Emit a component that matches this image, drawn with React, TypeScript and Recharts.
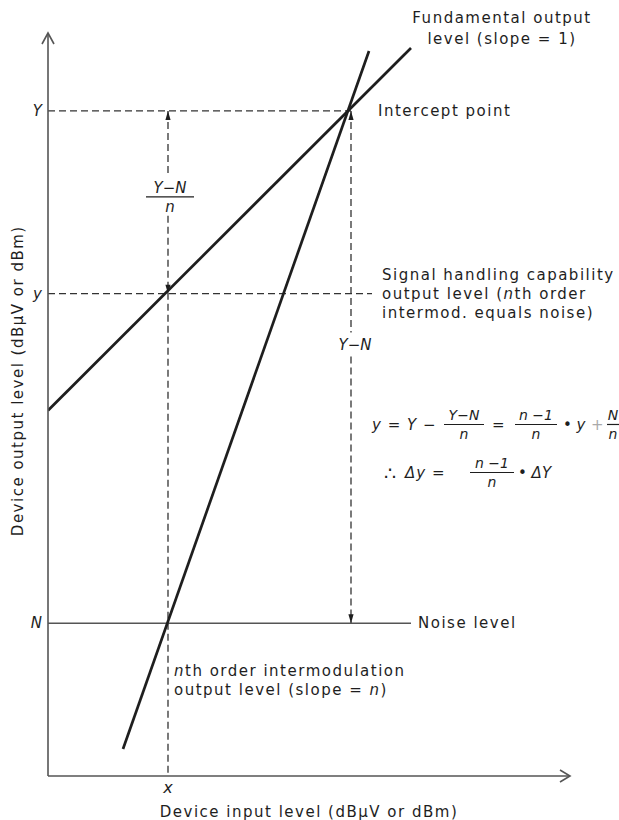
import React from 'react';
import { ComposedChart, Line, XAxis, YAxis, ReferenceLine, ReferenceDot } from 'recharts';

// axis ranges (input / output level, arbitrary dB units)
const inputDomain = [0, 174];
const outputDomain = [0, 248];

// fundamental output, slope = 1
const fundamental = [
  { input: 0, output: 122 },
  { input: 121, output: 243 },
];

// nth order intermodulation output, slope = n
const intermod = [
  { input: 25, output: 9 },
  { input: 107, output: 242 },
];

// named output levels on the vertical axis
const levelNames = ['N', 'y', 'Y'];
const levelValues = [51, 161, 222];

// named input level on the horizontal axis
const inputNames = ['x'];
const inputValues = [40];

// input level of the intercept point
const interceptInput = 101;

const [noiseLevel, handlingLevel, interceptLevel] = levelValues;
const markInput = inputValues[0];

const ink = '#1e1e1e';
const axisInk = '#555';
const font = "'DejaVu Sans', 'Noto Sans', sans-serif";
const txt = { fontFamily: font, fontSize: 15, fill: ink, letterSpacing: 1.5 };
const math = { fontFamily: font, fontSize: 15, fill: ink, fontStyle: 'italic' as const };

const dash = { stroke: '#333', strokeWidth: 1.3, strokeDasharray: '7 4' };

// small filled arrowhead, tip at (cx, cy)
const arrowHead = (dir: 'up' | 'down') => (p: any) => {
  const s = dir === 'up' ? 1 : -1;
  return (
    <polygon
      points={`${p.cx},${p.cy} ${p.cx - 2.6},${p.cy + s * 9} ${p.cx + 2.6},${p.cy + s * 9}`}
      fill={ink}
    />
  );
};

// block of text lines placed relative to a data point
const note =
  (lines: React.ReactNode[], dx: number, dy: number, gap = 19, anchor: 'start' | 'middle' = 'start') =>
  (p: any) => (
    <text x={p.cx + dx} y={p.cy + dy} textAnchor={anchor} dominantBaseline="central" style={txt}>
      {lines.map((l, i) => (
        <tspan key={i} x={p.cx + dx} dy={i === 0 ? 0 : gap}>
          {l}
        </tspan>
      ))}
    </text>
  );

const Frac = ({ x, y, num, den, w, size = 14 }: any) => (
  <g>
    <text x={x} y={y - 9} textAnchor="middle" dominantBaseline="central" style={{ ...math, fontSize: size }}>
      {num}
    </text>
    <line x1={x - w / 2} x2={x + w / 2} y1={y} y2={y} stroke={ink} strokeWidth={1.2} />
    <text x={x} y={y + 10} textAnchor="middle" dominantBaseline="central" style={{ ...math, fontSize: size }}>
      {den}
    </text>
  </g>
);

// y = Y - (Y-N)/n = (n-1)/n . Y + N/n  and  dy = (n-1)/n . dY
const formula = (p: any) => {
  const x0 = p.cx;
  const y0 = p.cy;
  return (
    <g>
      <text x={x0} y={y0 + 6} dominantBaseline="central" style={{ ...math, letterSpacing: 1 }}>
        y = Y −
      </text>
      <Frac x={x0 + 92} y={y0 + 5} num="Y−N" den="n" w={40} />
      <text x={x0 + 120} y={y0 + 6} dominantBaseline="central" style={math}>=</text>
      <Frac x={x0 + 164} y={y0 + 5} num="n −1" den="n" w={42} />
      <text x={x0 + 191} y={y0 + 6} dominantBaseline="central" style={math}>• y</text>
      <text x={x0 + 219} y={y0 + 6} dominantBaseline="central" style={{ ...math, fill: '#aaa' }}>+</text>
      <Frac x={x0 + 241} y={y0 + 5} num="N" den="n" w={12} />
      <text x={x0 + 12} y={y0 + 54} dominantBaseline="central" style={{ ...math, fontSize: 19 }}>∴</text>
      <text x={x0 + 33} y={y0 + 54} dominantBaseline="central" style={{ ...math, letterSpacing: 1 }}>Δy =</text>
      <Frac x={x0 + 120} y={y0 + 53} num="n −1" den="n" w={44} />
      <text x={x0 + 146} y={y0 + 54} dominantBaseline="central" style={math}>• ΔY</text>
    </g>
  );
};

const LevelTick = (p: any) => {
  const i = levelValues.indexOf(p.payload.value);
  return (
    <text x={p.x + 2} y={p.y} textAnchor="end" dominantBaseline="central" style={math}>
      {levelNames[i]}
    </text>
  );
};

const InputTick = (p: any) => {
  const i = inputValues.indexOf(p.payload.value);
  return (
    <text x={p.x} y={p.y + 3} textAnchor="middle" dominantBaseline="central" style={{ ...math, fontSize: 16 }}>
      {inputNames[i]}
    </text>
  );
};

const YTitle = (p: any) => {
  const vb = p.viewBox;
  const cx = vb.x + 18;
  const cy = vb.y + vb.height * 0.468;
  return (
    <text x={cx} y={cy} textAnchor="middle" dominantBaseline="central" transform={`rotate(-90 ${cx} ${cy})`} style={txt}>
      Device output level (dBμV or dBm)
    </text>
  );
};

export default function App() {
  return (
    <div style={{ position: 'absolute', left: 0, top: 0, width: 619, height: 820, background: '#fff' }}>
      <ComposedChart width={619} height={820} margin={{ top: 33, right: 49, left: 0, bottom: 0 }}>
        <XAxis
          type="number"
          dataKey="input"
          domain={inputDomain}
          allowDataOverflow
          ticks={inputValues}
          tick={<InputTick />}
          tickLine={false}
          height={44}
          axisLine={{ stroke: axisInk, strokeWidth: 1.6 }}
          label={{ value: 'Device input level (dBμV or dBm)', position: 'insideBottom', offset: 3, style: txt }}
        />
        <YAxis
          type="number"
          domain={outputDomain}
          allowDataOverflow
          ticks={levelValues}
          tick={<LevelTick />}
          tickLine={false}
          width={48}
          axisLine={{ stroke: axisInk, strokeWidth: 1.6 }}
          label={<YTitle />}
        />

        {/* dashed construction lines */}
        <ReferenceLine segment={[{ x: 0, y: interceptLevel }, { x: interceptInput, y: interceptLevel }]} {...dash} />
        <ReferenceLine segment={[{ x: 0, y: handlingLevel }, { x: 108, y: handlingLevel }]} {...dash} />
        <ReferenceLine segment={[{ x: markInput, y: interceptLevel }, { x: markInput, y: 200 }]} {...dash} />
        <ReferenceLine segment={[{ x: markInput, y: 187 }, { x: markInput, y: 0 }]} {...dash} />
        <ReferenceLine segment={[{ x: interceptInput, y: interceptLevel }, { x: interceptInput, y: 148 }]} {...dash} />
        <ReferenceLine segment={[{ x: interceptInput, y: 140 }, { x: interceptInput, y: noiseLevel }]} {...dash} />

        {/* noise floor */}
        <ReferenceLine segment={[{ x: 0, y: noiseLevel }, { x: 121, y: noiseLevel }]} stroke={axisInk} strokeWidth={1.4} />

        <Line data={fundamental} dataKey="output" stroke={ink} strokeWidth={2.7} dot={false} isAnimationActive={false} />
        <Line data={intermod} dataKey="output" stroke={ink} strokeWidth={2.7} dot={false} isAnimationActive={false} />

        {/* arrowheads on the dimension lines */}
        <ReferenceDot x={markInput} y={interceptLevel} r={0} shape={arrowHead('up')} />
        <ReferenceDot x={markInput} y={handlingLevel} r={0} shape={arrowHead('down')} />
        <ReferenceDot x={interceptInput} y={interceptLevel} r={0} shape={arrowHead('up')} />
        <ReferenceDot x={interceptInput} y={noiseLevel} r={0} shape={arrowHead('down')} />

        {/* axis arrows */}
        <ReferenceDot
          x={0}
          y={outputDomain[1]}
          r={0}
          ifOverflow="visible"
          shape={(p: any) => (
            <polyline points={`${p.cx - 6},${p.cy + 11} ${p.cx},${p.cy} ${p.cx + 6},${p.cy + 11}`} fill="none" stroke={axisInk} strokeWidth={1.6} />
          )}
        />
        <ReferenceDot
          x={inputDomain[1]}
          y={0}
          r={0}
          ifOverflow="visible"
          shape={(p: any) => (
            <polyline points={`${p.cx - 10},${p.cy - 6} ${p.cx},${p.cy} ${p.cx - 10},${p.cy + 6}`} fill="none" stroke={axisInk} strokeWidth={1.6} />
          )}
        />

        {/* annotations */}
        <ReferenceDot
          x={121}
          y={243}
          r={0}
          ifOverflow="visible"
          shape={note(['Fundamental output', 'level (slope = 1)'], 91, -30, 21, 'middle')}
        />
        <ReferenceDot x={interceptInput} y={interceptLevel} r={0} shape={note(['Intercept point'], 27, 0)} />
        <ReferenceDot
          x={108}
          y={handlingLevel}
          r={0}
          ifOverflow="visible"
          shape={note(
            [
              'Signal handling capability',
              <>
                output level (<tspan fontStyle="italic">n</tspan>th order
              </>,
              'intermod. equals noise)',
            ],
            10,
            -19,
          )}
        />
        <ReferenceDot
          x={interceptInput}
          y={144}
          r={0}
          shape={(p: any) => (
            <text x={p.cx + 4} y={p.cy} textAnchor="middle" dominantBaseline="central" style={math}>
              Y−N
            </text>
          )}
        />
        <ReferenceDot
          x={markInput}
          y={194}
          r={0}
          shape={(p: any) => <Frac x={p.cx + 2} y={p.cy + 2} num="Y−N" den="n" w={48} size={15} />}
        />
        <ReferenceDot x={121} y={noiseLevel} r={0} shape={note(['Noise level'], 7, 0)} />
        <ReferenceDot
          x={markInput}
          y={noiseLevel}
          r={0}
          shape={note(
            [
              <>
                <tspan fontStyle="italic">n</tspan>th order intermodulation
              </>,
              <>
                output level (slope = <tspan fontStyle="italic">n</tspan>)
              </>,
            ],
            6,
            48,
          )}
        />
        <ReferenceDot x={108} y={119} r={0} ifOverflow="visible" shape={formula} />
      </ComposedChart>
    </div>
  );
}
